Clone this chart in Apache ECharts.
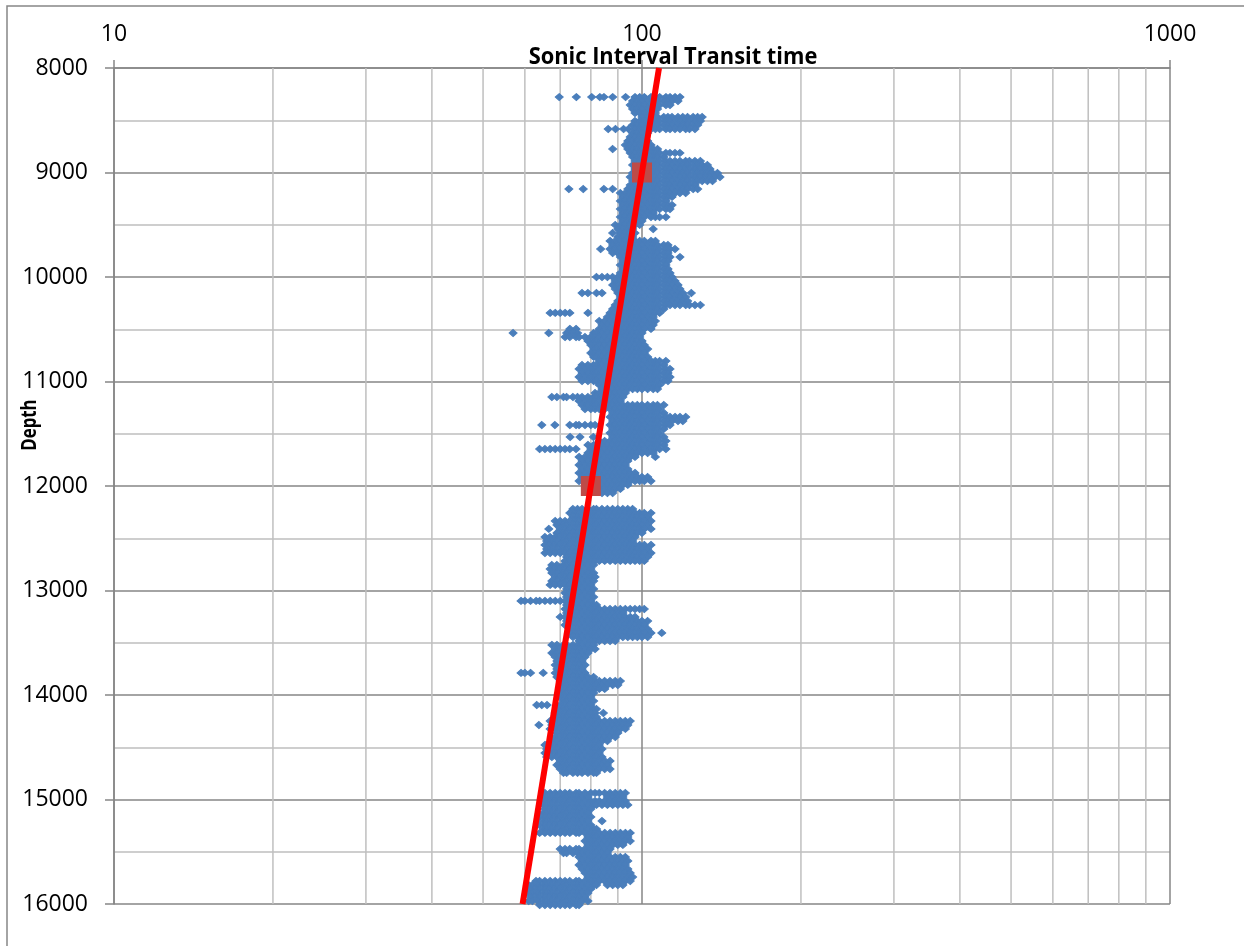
<!DOCTYPE html>
<html>
<head>
<meta charset="utf-8">
<title>Sonic Interval Transit time vs Depth</title>
<script src="https://cdn.jsdelivr.net/npm/echarts@6/dist/echarts.min.js"></script>
<style>
  html, body { margin: 0; padding: 0; background: #ffffff; }
  #chart { width: 1244px; height: 946px; }
</style>
</head>
<body>
<div id="chart"></div>
<script>
// Axis ranges and tick values
const depthRange = [8000, 16000];
const depthTickStep = 1000;
const transitRange = [10, 1000];
const transitMinorGrid = [20, 30, 40, 50, 60, 70, 80, 90, 200, 300, 400, 500, 600, 700, 800, 900];

// Sonic log samples: [depth ft, [interval transit time values at that depth]]
const sonicRows = [
  [8278, [69.7,75.1,80.3,83.2,84.7,88,93.1,97,99,101,104,106,108,111,113,115.5,118]],
  [8316, [96,98,100,102.5,105,107,110,112,114,117]],
  [8354, [95,97,99,101,104,106,108,111,113]],
  [8392, [96,98,100,102.5,105,107]],
  [8431, [97,99,101,104,106]],
  [8469, [100,102.5,105,107,110,112,114,117,119.5,122,125,127.5,130]],
  [8507, [97,99,101,104,106,108,111,113,115.5,118,121,123,126,129]],
  [8545, [96,98,100,102.5,105,107,110,112,114,117,119.5,122,125,127.5]],
  [8584, [86.3,89.1,92.3,94.3,97,99,101,104,106,108,111,113,115.5,118,121,123,126]],
  [8622, [96,98,100,102.5]],
  [8660, [95,97,99,101]],
  [8699, [94,96,98,100,102.5]],
  [8737, [93,95,97,99,101,104]],
  [8775, [88,94,96,98,100,102.5,105,107]],
  [8813, [95,97,99,101,104,106,108,111,113,115.5,118]],
  [8852, [96,98,100,102.5,105,107,110]],
  [8890, [97,99,101,104,106,108,111,113,115.5,118,121,123,126,129]],
  [8928, [96,98,100,102.5,105,107,110,112,114,117,119.5,122,125,127.5,130,133]],
  [8966, [97,99,101,104,106,108,111,113,115.5,118,121,123,126,129,132,134.5]],
  [9005, [96,98,100,102.5,105,107,110,112,114,117,119.5,122,125,127.5,130,133,136,139]],
  [9043, [95,97,99,101,104,106,108,111,113,115.5,118,121,123,126,129,132,134.5,137.5,140.5]],
  [9081, [96,98,100,102.5,105,107,110,112,114,117,119.5,122,125,127.5,130,133,136]],
  [9120, [95,97,99,101,104,106,108,111,113,115.5,118,121,123,126]],
  [9158, [72.7,77.4,84.7,88,94,96,98,100,102.5,105,107,110,112,114,117,119.5,122,125,127.5]],
  [9196, [91,93,95,97,99,101,104,106,108,111,113,115.5,118,121]],
  [9234, [92,94,96,98,100,102.5,105,107,110,112,114]],
  [9273, [91,93,95,97,99,101,104,106,108,111]],
  [9311, [92,94,96,98,100,102.5,105,107,110,112,114]],
  [9349, [91,93,95,97,99,101,104,106,108,111,113]],
  [9388, [92,94,96,98,100,102.5,105]],
  [9426, [91,93,95,97,99,101,104,106,108,111]],
  [9464, [92,94,96,98,100]],
  [9502, [89,91,93,95,97,99]],
  [9541, [90,92,94,96,105]],
  [9579, [88,91,93,95,97]],
  [9617, [90,92,94,96]],
  [9655, [87,89,91,93,95,97,99,101,104,106]],
  [9694, [88,90,92,94,96,98,100,102.5,105,107,110,112]],
  [9732, [83.5,87,89,91,93,95,97,99,101,104,106,108,111,113,115.5]],
  [9770, [88,90,92,94,96,98,100,102.5,105,107,110,112]],
  [9809, [91,93,95,97,99,101,104,106,108,111,113,118]],
  [9847, [92,94,96,98,100,102.5,105,107,110,112]],
  [9885, [91,93,95,97,99,101,104,106,108,111]],
  [9923, [92,94,96,98,100,102.5,105,107,110,112]],
  [9962, [91,93,95,97,99,101,104,106,108,111,113]],
  [10000, [82,84,86,88,90,92,94,96,98,100,102.5,105,107,110,112,114]],
  [10038, [89,91,93,95,97,99,101,104,106,108,111,113,115.5]],
  [10076, [88,90,92,94,96,98,100,102.5,105,107,110,112,114,117]],
  [10115, [89,91,93,95,97,99,101,104,106,108,111,113,115.5,118]],
  [10153, [77,79,82,84,90,92,94,96,98,100,102.5,105,107,110,112,114,117,119.5,124]],
  [10191, [91,93,95,97,99,101,104,106,108,111,113,115.5,118,121]],
  [10230, [90,92,94,96,98,100,102.5,105,107,110,112,114,117,119.5,122]],
  [10268, [89,91,93,95,97,99,101,104,106,108,111,113,115.5,118,121,123,126,129]],
  [10306, [88,90,92,94,96,98,100,102.5,105,107,110]],
  [10344, [67,68.5,70,71.5,73,79,87,89,91,93,95,97,99,101,104,106,108]],
  [10383, [86,88,90,92,94,96,98,100,102.5,105]],
  [10421, [83,85,87,89,91,93,95,97,99,101,104,106]],
  [10459, [84,86,88,90,92,94,96,98,100,102.5,105]],
  [10497, [73,75,83,85,87,89,91,93,95,97,99,101,104]],
  [10536, [57,66.6,72,74,75.5,81,82,84,86,88,90,92,94,96,98,100]],
  [10574, [71.5,73,75,76,78,80,81.5,83,85,87,89,91,93,95,97,99]],
  [10612, [79,81,82,84,86,88,90,92,94,96,98,100]],
  [10651, [80,81.5,83,85,87,89,91,93,95,97,99,101]],
  [10689, [81,82,84,86,88,90,92,94,96,98,100,102.5]],
  [10727, [80,81.5,83,85,87,89,91,93,95,97,99,101]],
  [10765, [81,82,84,86,88,90,92,94,96,98,100,102.5]],
  [10804, [83,85,87,89,91,93,95,97,99,101,104,106,108,111]],
  [10842, [77,79,81,82,84,86,88,90,92,94,96,98,100,102.5,105,107,110]],
  [10880, [76,78,80,81.5,83,85,87,89,91,93,95,97,99,101,104,106,108,111,113]],
  [10918, [77,79,81,82,84,86,88,90,92,94,96,98,100,102.5,105,107,110,112]],
  [10957, [76,78,80,81.5,83,85,87,89,91,93,95,97,99,101,104,106,108,111,113]],
  [10995, [77,79,81,82,84,86,88,90,92,94,96,98,100,102.5,105,107,110,112]],
  [11033, [83,85,87,89,91,93,95,97,99,101,104,106,108]],
  [11072, [84,86,88,90,92,94,96,98,100,102.5,105,107]],
  [11110, [81.5,83,85,87,89,91,93]],
  [11148, [67.5,69,71,72,74,75.5,77,79,81,82,84,86,88,90,92]],
  [11186, [76,78,80,81.5,83,85,87,89,91]],
  [11225, [77,79,81,82,84,86,88,90,92,94,96,98,100,102.5,105,107,110]],
  [11263, [78,80,81.5,83,85,87,89,91,93,95,97,99,101,104,106,108]],
  [11301, [88,90,92,94,96,98,100,102.5,105,107,110]],
  [11339, [87,89,91,93,95,97,99,101,104,106,108,111,113,115.5,118,121]],
  [11378, [88,90,92,94,96,98,100,102.5,105,107,110,112,114,117,119.5]],
  [11416, [64.6,68.4,73,75,76,78,80,81.5,87,89,91,93,95,97,99,101,104,106,108,111,113]],
  [11454, [88,90,92,94,96,98,100,102.5,105,107,110]],
  [11493, [87,89,91,93,95,97,99,101,104,106,108]],
  [11531, [73.1,76.3,80.9,88,90,92,94,96,98,100,102.5,105,107,110]],
  [11569, [83,85,87,89,91,93,95,97,99,101,104,106,108,111]],
  [11607, [79,81,82,84,86,88,90,92,94,96,98,100,102.5,105,107,110]],
  [11646, [64,65.5,67,68.5,70,71.5,73,75,80,81.5,83,85,87,89,91,93,95,97,99,101,104,106,108,111]],
  [11684, [79,81,82,84,86,88,90,92,94,96,98,100,102.5,105]],
  [11722, [76,78,80,81.5,83,85,87,89,91,93,95,97,106]],
  [11760, [77,79,81,82,84,86,88,90,92,94]],
  [11799, [76,78,80,81.5,83,85,87,89,91,93]],
  [11837, [77,79,81,82,84,86,88,90,92,94]],
  [11875, [76,78,80,81.5,83,85,87,89,91,93,95,97]],
  [11914, [77,79,81,82,84,86,88,90,92,94,96,98,100,102.5]],
  [11952, [76,78,80,81.5,83,85,87,89,91,93,95,97,99,101,104]],
  [11990, [84,86,88,90,92,94]],
  [12028, [83,85,87,89,91]],
  [12067, [84,86,88]],
  [12220, [74,75.5,77,79,81,82,84,86,88,90,92,94,96]],
  [12258, [73,75,76,78,80,81.5,83,85,87,89,91,93,95,97,99,101,104]],
  [12296, [74,75.5,77,79,81,82,84,86,88,90,92,94,96,98,100,102.5]],
  [12335, [68.5,70,71.5,73,75,76,78,80,81.5,83,85,87,89,91,93,95,97,99,101,104]],
  [12373, [69,71,72,74,75.5,77,79,81,82,84,86,88,90,92,94,96,98,100,102.5]],
  [12411, [66.6,70,71.5,73,75,76,78,80,81.5,83,85,87,89,91,93,95,97,99,101,104]],
  [12449, [69,71,72,74,75.5,77,79,81,82,84,86,88,90,92,94,96,98,100]],
  [12488, [65.5,67,68.5,70,71.5,73,75,76,78,80,81.5,83,85,87,89,91,93,95,97]],
  [12526, [66,67.5,69,71,72,74,75.5,77,79,81,82,84,86,88,90,92,94,96]],
  [12564, [65.5,67,68.5,70,71.5,73,75,76,78,80,81.5,83,85,87,89,91,93,95,97,99,101,104]],
  [12602, [66,67.5,69,71,72,74,75.5,77,79,81,82,84,86,88,90,92,94,96,98,100,102.5]],
  [12641, [65.5,67,68.5,70,71.5,73,75,76,78,80,81.5,83,85,87,89,91,93,95,97,99,101,104]],
  [12679, [72,74,75.5,77,79,81,82,84,86,88,90,92,94,96,98,100,102.5]],
  [12717, [71.5,73,75,76,78,80,81.5,83,85,87,89,91,93,95,97,99,101]],
  [12756, [67.5,69,71,72,74,75.5,77,79,81]],
  [12794, [67,68.5,70,71.5,73,75,76,78,80]],
  [12832, [67.5,69,71,72,74,75.5,77,79,81]],
  [12870, [68.5,70,71.5,73,75,76,78,80,81.5]],
  [12909, [67.5,69,71,72,74,75.5,77,79,81]],
  [12947, [67,68.5,70,71.5,73,75,76,78,80]],
  [12985, [72,74,75.5,77,79,81]],
  [13024, [71.5,73,75,76,78,80]],
  [13062, [72,74,75.5,77,79,81]],
  [13100, [59,60,61.5,63,64,65.5,67,68.5,70,71.5,73,75,76,78,80]],
  [13138, [72,74,75.5,77,79,81,82]],
  [13177, [71.5,73,75,76,78,80,81.5,83,85,87,89,91,93,95,97,99,101]],
  [13215, [72,74,75.5,77,79,81,82,84,86,88,90,92]],
  [13253, [70,71.5,73,75,76,78,80,81.5,83,85,87,89,91,93,95,97]],
  [13292, [72,74,75.5,77,79,81,82,84,86,88,90,92,94,96,98,100,102.5]],
  [13330, [71.5,73,75,76,78,80,81.5,83,85,87,89,91,93,95,97,99,101]],
  [13368, [74,75.5,77,79,81,82,84,86,88,90,92,94,96,98,100,102.5]],
  [13406, [73,75,76,78,80,81.5,83,85,87,89,91,93,95,97,99,101,104,109]],
  [13445, [74,75.5,77,79,81,82,84,86,88,90,92,94,96,98,100,102.5]],
  [13483, [76,78,80,81.5,83,85,87,89]],
  [13521, [67.5,69,71,72,74,75.5,77,79,81]],
  [13560, [68.5,70,71.5,73,75,76,78,80,81.5]],
  [13598, [67.5,69,71,72,74,75.5,77,79]],
  [13636, [68.5,70,71.5,73,75,76,78]],
  [13674, [69,71,72,74,75.5,77]],
  [13713, [68.5,70,71.5,73,75,76,78]],
  [13751, [69,71,72,74,75.5,77]],
  [13789, [59,60,61.5,65,68.5,70,71.5,73,75,76,78]],
  [13828, [69,71,72,74,75.5,77,79,81]],
  [13866, [70,71.5,73,75,76,78,80,81.5,83,85,87,89,91]],
  [13904, [71,72,74,75.5,77,79,81,82,84,86,88,90]],
  [13942, [70,71.5,73,75,76,78,80,81.5,83,85]],
  [13981, [71,72,74,75.5,77,79,81]],
  [14019, [70,71.5,73,75,76,78,80]],
  [14057, [71,72,74,75.5,77,79,81]],
  [14096, [63.2,64.6,66.1,70,71.5,73,75,76,78,80]],
  [14134, [69,71,72,74,75.5,77,79,81,82]],
  [14172, [68.5,70,71.5,73,75,76,78,80,81.5,84.5]],
  [14210, [69,71,72,74,75.5,77,79,81,82]],
  [14249, [67,68.5,70,71.5,73,75,76,78,80,81.5,83,85,87,89,91,93,95]],
  [14287, [63.8,67.5,69,71,72,74,75.5,77,79,81,82,84,86,88,90,92,94]],
  [14325, [67,68.5,70,71.5,73,75,76,78,80,81.5,83,85,87,89,91,93]],
  [14363, [69,71,72,74,75.5,77,79,81,82,84,86,88,90]],
  [14402, [68.5,70,71.5,73,75,76,78,80,81.5,83,85,87,89]],
  [14440, [67.5,69,71,72,74,75.5,77,79,81,82,84,86]],
  [14478, [65.5,67,68.5,70,71.5,73,75,76,78,80,81.5,83]],
  [14517, [66,67.5,69,71,72,74,75.5,77,79,81,82,84]],
  [14555, [65.5,67,68.5,70,71.5,73,75,76,78,80,81.5,83]],
  [14593, [66,67.5,69,71,72,74,75.5,77,79,81,82,84]],
  [14631, [70,71.5,73,75,76,78,80,81.5,83,85,87]],
  [14670, [69,71,72,74,75.5,77,79,81,82,84,86]],
  [14708, [70,71.5,73,75,76,78,80,81.5,83,85,87]],
  [14746, [71,72,74,75.5,77,79,81,82]],
  [14938, [65.5,67,68.5,70,71.5,73,75,76,78,80,81.5,83,85,87,89,91,93]],
  [14976, [65,66,67.5,69,71,72,74,75.5,77,79,86,88,90,92]],
  [15014, [65.5,67,68.5,70,71.5,73,75,76,78,80,81.5,83,85,87,89,91,93]],
  [15052, [65,66,67.5,69,71,72,74,75.5,77,79,81,82,84,86,88,90,92,94]],
  [15091, [65.5,67,68.5,70,71.5,73,75,76,78,80]],
  [15129, [65,66,67.5,69,71,72,74,75.5,77,79]],
  [15167, [64,65.5,67,68.5,70,71.5,73,75,76,78,80]],
  [15206, [65,66,67.5,69,71,72,74,75.5,77,79,84]],
  [15244, [64,65.5,67,68.5,70,71.5,73,75,76,78,80]],
  [15282, [65,66,67.5,69,71,72,74,75.5,77,79,81,82]],
  [15320, [64,65.5,67,68.5,70,71.5,73,75,76,78,80,81.5,83,85,87,89,91,93,95]],
  [15359, [79,81,82,84,86,88,90,92,94]],
  [15397, [78,80,81.5,83,85,87,89,91,93,95]],
  [15435, [79,81,82,84,86,88,90,92]],
  [15474, [70,71.5,73,75,76,78,80,81.5,83,85,87]],
  [15512, [71,72,74,75.5,77,79,81,82,84,86]],
  [15550, [76,78,80,81.5,83,85,87,89,91,93]],
  [15588, [77,79,81,82,84,86,88,90,92,94]],
  [15627, [76,78,80,81.5,83,85,87,89,91,93]],
  [15665, [77,79,81,82,84,86,88,90,92,94]],
  [15703, [78,80,81.5,83,85,87,89,91,93,95]],
  [15742, [79,81,82,84,86,88,90,92,94,96]],
  [15780, [63,64,65.5,67,68.5,70,71.5,73,75,76,78,80,81.5,83,85,87,89,91,93,95]],
  [15818, [61,62,63.5,65,66,67.5,69,71,72,74,75.5,77,79,81,82,86,88,90,92]],
  [15856, [61.5,63,64,65.5,67,68.5,70,71.5,73,75,76,78,80]],
  [15895, [61,62,63.5,65,66,67.5,69,71,72,74,75.5,77,79]],
  [15933, [61.5,63,64,65.5,67,68.5,70,71.5,73,75,76,78]],
  [15971, [61,62,63.5,65,66,67.5,69,71,72,74,75.5,77,79]],
  [16010, [64,65.5,67,68.5,70,71.5,73,75,76]]
];

// Calibration anchors (transit time, depth)
const anchorTransit = [100, 80];
const anchorDepth = [9000, 12000];

// Normal compaction trend end points
const trendTransit = [107.7, 59.4];
const trendDepth = [8000, 16000];

const FONT = "'Open Sans', 'Liberation Sans', sans-serif";
const AXIS_GRAY = '#868686';
const MINOR_GRAY = '#bfbfbf';
const SONIC_BLUE = '#4a7ebb';

const sonicPoints = [];
sonicRows.forEach(([depth, values]) => {
  values.forEach(v => sonicPoints.push([v, depth]));
});

const anchorPoints = anchorTransit.map((v, i) => [v, anchorDepth[i]]);
const trendPoints = trendTransit.map((v, i) => [v, trendDepth[i]]);

// Light vertical grid at the log sub-decades
const minorGridSeries = transitMinorGrid.map(v => ({
  type: 'line',
  data: [[v, depthRange[0]], [v, depthRange[1]]],
  symbol: 'none',
  silent: true,
  z: 1,
  lineStyle: { color: MINOR_GRAY, width: 1.5 },
  emphasis: { disabled: true }
}));

const chart = echarts.init(document.getElementById('chart'), null, { renderer: 'canvas' });

chart.setOption({
  animation: false,
  backgroundColor: '#ffffff',
  grid: { left: 114, top: 68, right: 74, bottom: 42, containLabel: false },
  xAxis: {
    type: 'log',
    logBase: 10,
    min: transitRange[0],
    max: transitRange[1],
    position: 'top',
    axisLine: { show: true, lineStyle: { color: AXIS_GRAY, width: 1.5 } },
    axisTick: { show: true, inside: false, length: 8, lineStyle: { color: AXIS_GRAY, width: 1.5 } },
    axisLabel: {
      color: '#000', fontSize: 23, fontFamily: FONT, margin: 22,
      formatter: v => String(Math.round(v))
    },
    splitLine: { show: true, lineStyle: { color: AXIS_GRAY, width: 1.5 } }
  },
  yAxis: {
    type: 'value',
    inverse: true,
    min: depthRange[0],
    max: depthRange[1],
    interval: depthTickStep,
    axisLine: { show: true, onZero: false, lineStyle: { color: AXIS_GRAY, width: 1.5 } },
    axisTick: { show: true, inside: false, length: 9, lineStyle: { color: AXIS_GRAY, width: 1.5 } },
    axisLabel: {
      color: '#000', fontSize: 23, fontFamily: FONT, margin: 26,
      formatter: v => String(v)
    },
    splitLine: { show: true, lineStyle: { color: AXIS_GRAY, width: 1.5 } },
    minorTick: { show: false, splitNumber: 2 },
    minorSplitLine: { show: true, lineStyle: { color: MINOR_GRAY, width: 1.5 } }
  },
  graphic: [
    {
      type: 'rect',
      silent: true,
      z: 0,
      shape: { x: 7, y: 6, width: 1400, height: 1200 },
      style: { fill: 'none', stroke: AXIS_GRAY, lineWidth: 1.5 }
    },
    {
      type: 'text',
      silent: true,
      x: 673,
      y: 57,
      scaleX: 0.95,
      style: {
        text: 'Sonic Interval Transit time',
        fontSize: 23, fontWeight: 'bold', fontFamily: FONT, fill: '#000',
        textAlign: 'center', textVerticalAlign: 'middle',
        align: 'center', verticalAlign: 'middle'
      }
    },
    {
      type: 'text',
      silent: true,
      x: 30,
      y: 425,
      rotation: Math.PI / 2,
      scaleX: 0.8,
      style: {
        text: 'Depth',
        fontSize: 21, fontWeight: 'bold', fontFamily: FONT, fill: '#000',
        textAlign: 'center', textVerticalAlign: 'middle',
        align: 'center', verticalAlign: 'middle'
      }
    }
  ],
  series: [
    ...minorGridSeries,
    {
      type: 'scatter',
      name: 'Sonic',
      data: sonicPoints,
      symbol: 'diamond',
      symbolSize: [8, 7],
      itemStyle: { color: SONIC_BLUE, borderColor: SONIC_BLUE, borderWidth: 1, opacity: 1 },
      z: 2,
      clip: false,
      silent: true,
      progressive: 0,
      large: false
    },
    {
      type: 'scatter',
      name: 'Anchors',
      data: anchorPoints,
      symbol: 'rect',
      symbolSize: 20,
      itemStyle: { color: '#be4b48', opacity: 1 },
      z: 3,
      silent: true
    },
    {
      type: 'line',
      name: 'Trend',
      data: trendPoints,
      symbol: 'none',
      lineStyle: { color: '#ff0000', width: 6 },
      z: 4,
      silent: true
    }
  ]
});
</script>
</body>
</html>
